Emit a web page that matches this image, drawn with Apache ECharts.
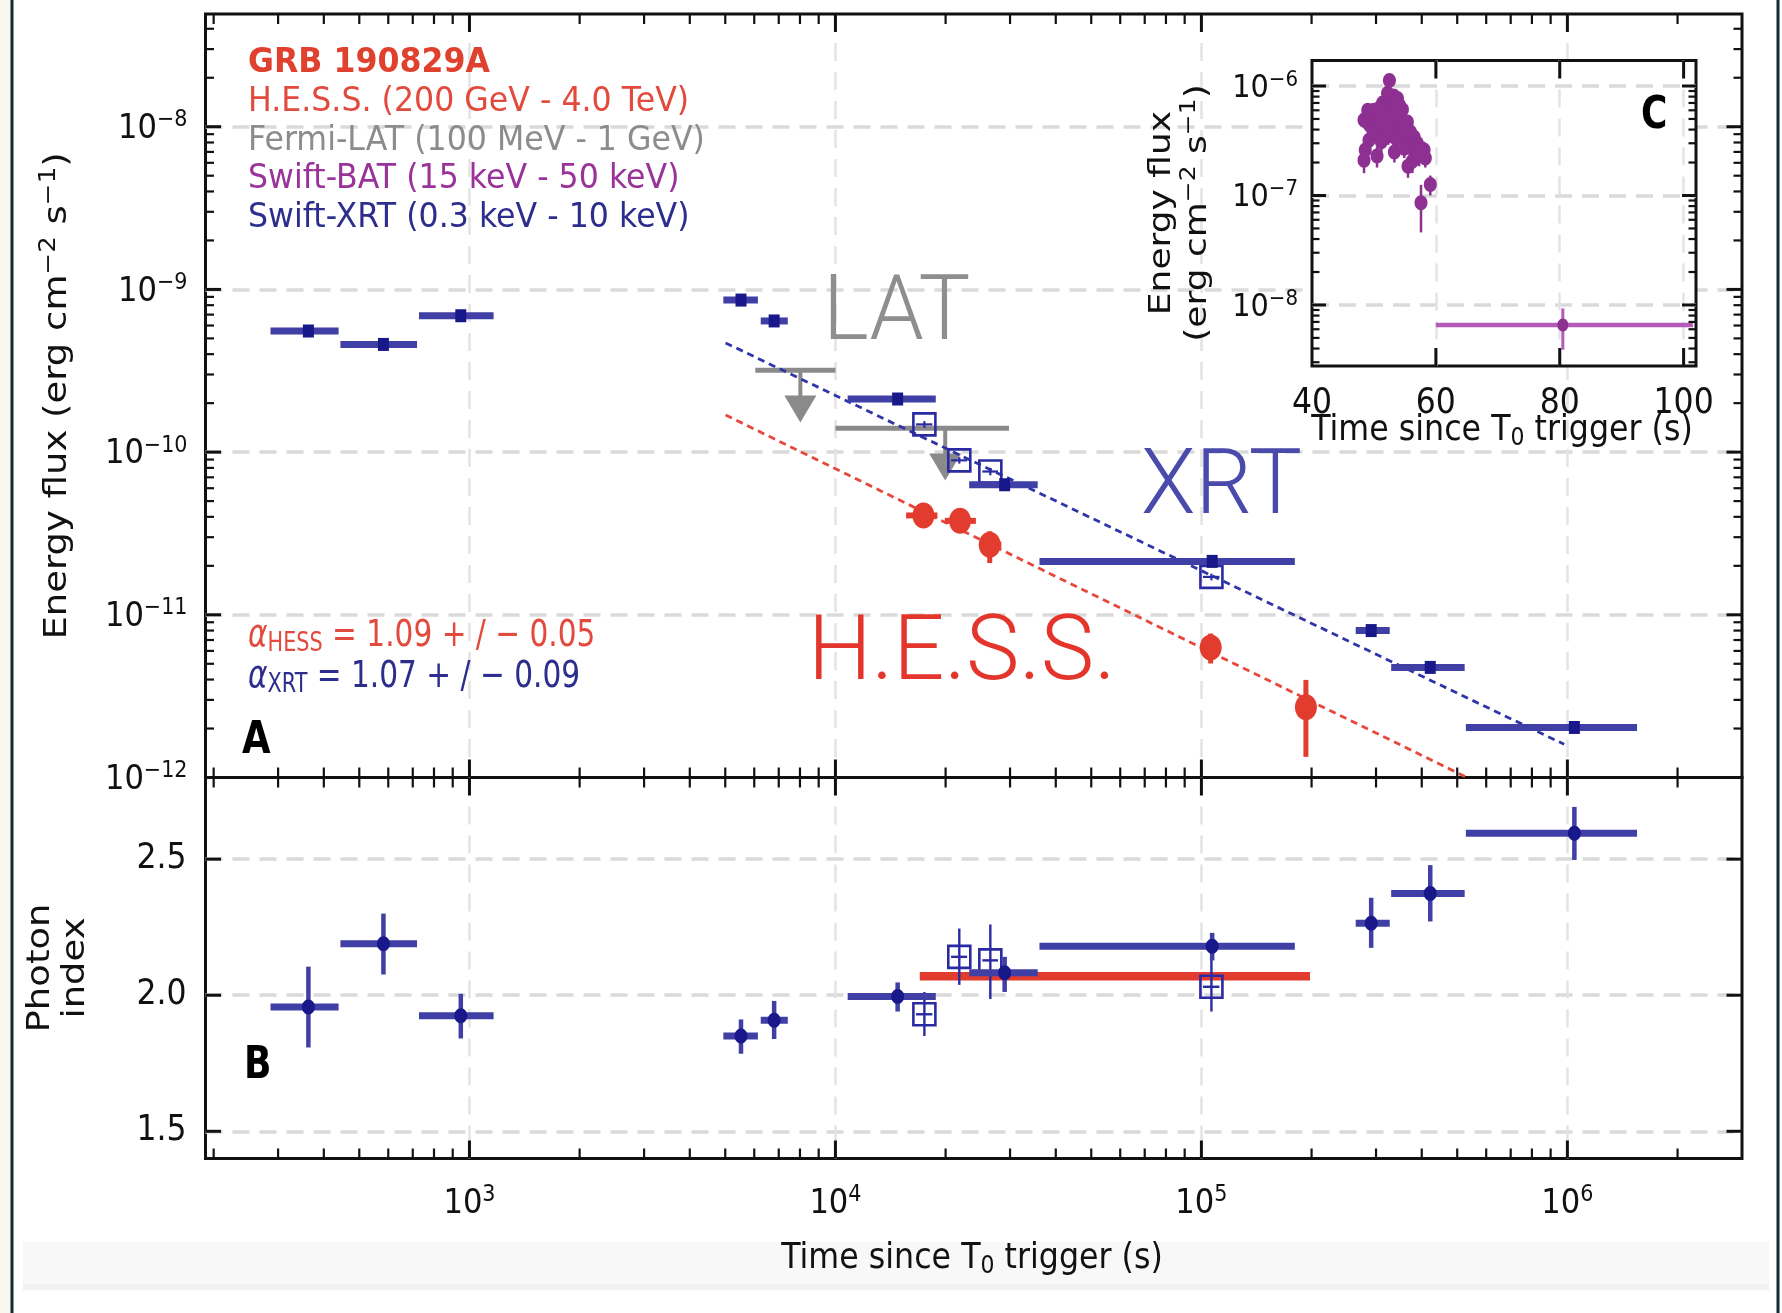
<!DOCTYPE html>
<html>
<head>
<meta charset="utf-8">
<script src="https://cdn.jsdelivr.net/npm/echarts@6/dist/echarts.min.js"></script>
<style>
html, body { margin: 0; padding: 0; background: #ffffff; }
#chart { width: 1782px; height: 1313px; }
</style>
</head>
<body>
<div id="chart"></div>
<script>
// ---------------- GRB 190829A multi-wavelength light curve ----------------

// Swift-XRT (filled squares): time bins (s), energy flux (erg cm^-2 s^-1), photon index
const xrtTime     = [363, 582, 947, 5520, 6800, 14790, 29000, 107000, 291000, 422000, 1045000];
const xrtTimeLo   = [286, 444, 728, 4940, 6250, 10800, 23200, 36100, 264000, 330000, 528000];
const xrtTimeHi   = [439, 719, 1164, 6140, 7410, 18800, 35700, 180000, 327000, 524000, 1550000];
const xrtFlux     = [5.55e-10, 4.59e-10, 6.89e-10, 8.6e-10, 6.4e-10, 2.12e-10, 6.3e-11, 2.13e-11, 8.0e-12, 4.75e-12, 2.03e-12];
const xrtFluxLo   = [5.3e-10, 4.4e-10, 6.6e-10, 8.2e-10, 6.1e-10, 2.03e-10, 6.0e-11, 2.0e-11, 7.5e-12, 4.45e-12, 1.9e-12];
const xrtFluxHi   = [5.8e-10, 4.8e-10, 7.2e-10, 9.0e-10, 6.7e-10, 2.21e-10, 6.6e-11, 2.26e-11, 8.5e-12, 5.05e-12, 2.16e-12];
const xrtIndex    = [1.957, 2.189, 1.925, 1.850, 1.908, 1.995, 2.083, 2.180, 2.264, 2.374, 2.595];
const xrtIndexLo  = [1.808, 2.076, 1.841, 1.785, 1.839, 1.940, 2.012, 2.128, 2.174, 2.271, 2.497];
const xrtIndexHi  = [2.105, 2.300, 2.005, 1.911, 1.979, 2.047, 2.141, 2.229, 2.358, 2.478, 2.692];

// Swift-XRT restricted to the H.E.S.S. observation windows (open squares)
const xrtSimTime    = [17500, 21800, 26500, 106500];
const xrtSimTimeLo  = [16600, 20700, 25200, 101000];
const xrtSimTimeHi  = [18400, 22900, 27800, 112000];
const xrtSimFlux    = [1.48e-10, 8.9e-11, 7.6e-11, 1.71e-11];
const xrtSimFluxLo  = [1.41e-10, 8.5e-11, 7.2e-11, 1.63e-11];
const xrtSimFluxHi  = [1.55e-10, 9.3e-11, 8.0e-11, 1.79e-11];
const xrtSimIndex   = [1.930, 2.141, 2.128, 2.031];
const xrtSimIndexLo = [1.850, 2.038, 1.986, 1.940];
const xrtSimIndexHi = [2.012, 2.245, 2.260, 2.141];

// Fermi-LAT upper limits
const latTime     = [8020, 19950];
const latTimeLo   = [6040, 10000];
const latTimeHi   = [10000, 29800];
const latFluxUL   = [3.19e-10, 1.40e-10];
const latArrowTip = [1.52e-10, 6.7e-11];

// H.E.S.S.
const hessTime    = [17400, 21900, 26400, 106000, 193000];
const hessTimeLo  = [15600, 19900, 24700, 99100, 182000];
const hessTimeHi  = [19000, 24200, 28400, 113000, 205000];
const hessFlux    = [4.08e-11, 3.78e-11, 2.70e-11, 6.3e-12, 2.70e-12];
const hessFluxLo  = [3.43e-11, 3.18e-11, 2.08e-11, 5.02e-12, 1.34e-12];
const hessFluxHi  = [4.85e-11, 4.28e-11, 3.26e-11, 7.67e-12, 3.98e-12];
const hessIndexTime = [17000, 198000];
const hessIndex     = 2.07;

// Power-law decay fits (end points of the dashed lines)
const xrtFitTime  = [5010, 980000];
const xrtFitFlux  = [4.69e-10, 1.60e-12];
const hessFitTime = [5010, 532000];
const hessFitFlux = [1.69e-10, 1.0e-12];

// Swift-BAT prompt emission (inset)
const batTime   = [48.4, 48.4, 48.6, 48.9, 49.0, 49.2, 49.3, 49.5, 49.7, 49.8, 50.0, 50.2, 50.3, 50.5, 50.6, 50.8, 50.9, 51.1, 51.2, 51.3, 51.4, 51.6, 51.8, 51.9, 52.0, 52.2, 52.3, 52.5, 52.7, 52.8, 53.0, 53.1, 53.2, 53.3, 53.5, 53.6, 53.8, 54.0, 54.1, 54.2, 54.5, 54.6, 54.8, 54.9, 55.2, 55.4, 55.5, 55.7, 55.9, 56.0, 56.2, 56.5, 56.6, 56.8, 57.0, 57.3, 57.5, 57.6, 58.1, 58.3, 59.1];
const batFlux   = [2.1e-7, 4.9e-7, 2.6e-7, 4.7e-7, 6.0e-7, 3.2e-7, 4.4e-7, 5.6e-7, 5.0e-7, 4.0e-7, 6.0e-7, 4.3e-7, 5.2e-7, 2.3e-7, 3.6e-7, 5.4e-7, 6.3e-7, 5.1e-7, 3.1e-7, 4.5e-7, 7.0e-7, 5.9e-7, 6.4e-7, 4.0e-7, 5.0e-7, 8.6e-7, 3.5e-7, 1.12e-6, 4.3e-7, 5.6e-7, 6.6e-7, 4.0e-7, 8.1e-7, 2.5e-7, 5.8e-7, 3.3e-7, 7.7e-7, 5.2e-7, 6.7e-7, 3.8e-7, 4.6e-7, 6.1e-7, 4.0e-7, 2.7e-7, 3.4e-7, 4.7e-7, 1.85e-7, 2.9e-7, 3.8e-7, 3.2e-7, 2.05e-7, 3.4e-7, 2.4e-7, 2.8e-7, 3.0e-7, 2.3e-7, 2.6e-7, 8.6e-8, 2.6e-7, 2.2e-7, 1.26e-7];
const batFluxLo = [1.6e-7, 4.2e-7, 2.1e-7, 4.0e-7, 5.2e-7, 2.6e-7, 3.7e-7, 4.8e-7, 4.3e-7, 3.3e-7, 5.2e-7, 3.6e-7, 4.5e-7, 1.8e-7, 3.0e-7, 4.6e-7, 5.5e-7, 4.3e-7, 2.5e-7, 3.8e-7, 6.1e-7, 5.1e-7, 5.6e-7, 3.3e-7, 4.3e-7, 7.6e-7, 2.9e-7, 1.0e-6, 3.6e-7, 4.8e-7, 5.8e-7, 3.3e-7, 7.2e-7, 2.0e-7, 5.0e-7, 2.7e-7, 6.8e-7, 4.5e-7, 5.9e-7, 3.2e-7, 3.9e-7, 5.3e-7, 3.3e-7, 2.2e-7, 2.8e-7, 4.0e-7, 1.45e-7, 2.4e-7, 3.2e-7, 2.6e-7, 1.6e-7, 2.8e-7, 1.9e-7, 2.3e-7, 2.5e-7, 1.85e-7, 2.1e-7, 4.6e-8, 2.1e-7, 1.8e-7, 1.0e-7];
const batFluxHi = [2.6e-7, 5.6e-7, 3.1e-7, 5.4e-7, 6.8e-7, 3.8e-7, 5.1e-7, 6.4e-7, 5.7e-7, 4.7e-7, 6.9e-7, 5.0e-7, 5.9e-7, 2.8e-7, 4.2e-7, 6.2e-7, 7.1e-7, 5.9e-7, 3.7e-7, 5.2e-7, 7.9e-7, 6.8e-7, 7.2e-7, 4.7e-7, 5.7e-7, 9.6e-7, 4.1e-7, 1.24e-6, 5.0e-7, 6.4e-7, 7.5e-7, 4.7e-7, 9.1e-7, 3.0e-7, 6.6e-7, 3.9e-7, 8.7e-7, 5.9e-7, 7.6e-7, 4.5e-7, 5.3e-7, 6.9e-7, 4.7e-7, 3.2e-7, 4.0e-7, 5.4e-7, 2.25e-7, 3.4e-7, 4.4e-7, 3.8e-7, 2.5e-7, 4.0e-7, 2.9e-7, 3.3e-7, 3.5e-7, 2.75e-7, 3.1e-7, 1.25e-7, 3.1e-7, 2.6e-7, 1.52e-7];
const batLateTime = [80.5], batLateTimeLo = [60], batLateTimeHi = [101.5];
const batLateFlux = [6.56e-9], batLateFluxLo = [3.9e-9], batLateFluxHi = [9.3e-9];

// Axis ticks
const timeDecades      = [1e3, 1e4, 1e5, 1e6];
const fluxDecades      = [1e-11, 1e-10, 1e-9, 1e-8];
const indexTicks       = [1.5, 2.0, 2.5];
const insetTimeTicks   = [60, 80, 100];
const insetFluxDecades = [1e-8, 1e-7, 1e-6];
const minorSteps       = [2, 3, 4, 5, 6, 7, 8, 9];

// ---------------- styling ----------------
const RED = '#e23c2e', NAVY = '#18188a', XRT_BAR = '#3f3fa6', XRT_OPEN = '#2a2aa2';
const GRAY = '#8a8a8a', PURPLE = '#8d3091', PURPLE_BAR = '#b45bb8';
const TF = "'DejaVu Sans Condensed', 'DejaVu Sans', sans-serif";
const DV = "'DejaVu Sans', sans-serif";
const GRID_H = { color: '#dadada', width: 3.5, type: [17, 10] };
const GRID_V = { color: '#e3e3e3', width: 2.5, type: [18, 11] };

function minorOf(decades, lo, hi) {
  const out = [];
  decades.forEach(d => minorSteps.forEach(k => { const v = k * d; if (v > lo && v < hi) out.push(v); }));
  return out;
}
function tickRows(majors, minors, ref, isX) {
  const rows = [];
  majors.forEach(v => rows.push(isX ? [v, ref, 1] : [ref, v, 1]));
  minors.forEach(v => rows.push(isX ? [v, ref, 0] : [ref, v, 0]));
  return rows;
}
function seg(x1, y1, x2, y2, w, c) {
  return { type: 'line', shape: { x1, y1, x2, y2 }, style: { stroke: c || '#111', lineWidth: w } };
}
function tickRenderer(dir, sides, majorLen, minorLen, ref) {
  return function (params, api) {
    const cs = params.coordSys;
    const major = api.value(2) === 1;
    const len = major ? majorLen : minorLen;
    const lw = major ? 3 : 2.2;
    const kids = [];
    if (dir === 'x') {
      const px = api.coord([api.value(0), ref])[0];
      if (sides.indexOf('top') >= 0) kids.push(seg(px, cs.y, px, cs.y + len, lw));
      if (sides.indexOf('bottom') >= 0) kids.push(seg(px, cs.y + cs.height, px, cs.y + cs.height - len, lw));
    } else {
      const py = api.coord([ref, api.value(1)])[1];
      if (sides.indexOf('left') >= 0) kids.push(seg(cs.x, py, cs.x + len, py, lw));
      if (sides.indexOf('right') >= 0) kids.push(seg(cs.x + cs.width, py, cs.x + cs.width - len, py, lw));
    }
    return { type: 'group', children: kids };
  };
}
function tickSeries(xi, yi, rows, renderer) {
  return { type: 'custom', xAxisIndex: xi, yAxisIndex: yi, data: rows, encode: { x: 0, y: 1 },
           renderItem: renderer, silent: true, z: 8 };
}

// error-bar point: [x, y, xLo, xHi, yLo, yHi]
function errRows(x, y, xl, xh, yl, yh) { return x.map((v, i) => [v, y[i], xl[i], xh[i], yl[i], yh[i]]); }
function errPoint(o) {
  return function (params, api) {
    const c  = api.coord([api.value(0), api.value(1)]);
    const l  = api.coord([api.value(2), api.value(1)]);
    const r  = api.coord([api.value(3), api.value(1)]);
    const lo = api.coord([api.value(0), api.value(4)]);
    const hi = api.coord([api.value(0), api.value(5)]);
    const kids = [
      seg(l[0], c[1], r[0], c[1], o.hw, o.barColor),
      seg(c[0], lo[1], c[0], hi[1], o.vw, o.barColor)
    ];
    if (o.marker === 'rect') kids.push({ type: 'rect', shape: { x: c[0] - o.rx, y: c[1] - o.ry, width: 2 * o.rx, height: 2 * o.ry }, style: { fill: o.color } });
    else if (o.marker === 'open') kids.push({ type: 'rect', shape: { x: c[0] - o.rx, y: c[1] - o.ry, width: 2 * o.rx, height: 2 * o.ry }, style: { fill: 'none', stroke: o.color, lineWidth: 2.6 } });
    else kids.push({ type: 'ellipse', shape: { cx: c[0], cy: c[1], rx: o.rx, ry: o.ry }, style: { fill: o.color } });
    return { type: 'group', children: kids };
  };
}
function errSeries(xi, yi, rows, o, z) {
  return { type: 'custom', xAxisIndex: xi, yAxisIndex: yi, data: rows,
           encode: { x: [0, 2, 3], y: [1, 4, 5] }, renderItem: errPoint(o), silent: true, z: z };
}

// upper limits: [t, F, tLo, tHi, Ftip]
function ulRenderer(params, api) {
  const c   = api.coord([api.value(0), api.value(1)]);
  const l   = api.coord([api.value(2), api.value(1)]);
  const r   = api.coord([api.value(3), api.value(1)]);
  const tip = api.coord([api.value(0), api.value(4)]);
  const headH = 27, headW = 16;
  return { type: 'group', children: [
    seg(l[0], c[1], r[0], c[1], 5, GRAY),
    seg(c[0], c[1], c[0], tip[1] - headH + 2, 4, GRAY),
    { type: 'polygon', shape: { points: [[c[0] - headW, tip[1] - headH], [c[0] + headW, tip[1] - headH], [c[0], tip[1]]] }, style: { fill: GRAY } }
  ] };
}

// horizontal band for the H.E.S.S. photon index: [tMid, idx, tLo, tHi]
function bandRenderer(params, api) {
  const l = api.coord([api.value(2), api.value(1)]);
  const r = api.coord([api.value(3), api.value(1)]);
  return seg(l[0], l[1], r[0], r[1], 8.5, RED);
}

function powLabel(v) {
  const lg = Math.log10(v), e = Math.round(lg);
  if (Math.abs(lg - e) > 1e-6) return '';
  return '{b|10}{s|' + (e < 0 ? '\u2212' + (-e) : String(e)) + '}';
}
function powRich(base, sup) {
  return {
    b: { fontFamily: TF, fontSize: base, lineHeight: base + 2, padding: [5, 0, 0, 0], color: '#111' },
    s: { fontFamily: TF, fontSize: sup, lineHeight: sup + 1, verticalAlign: 'top', color: '#111' }
  };
}
// axis titles with raised / lowered parts
const titleRich = {
  t: { fontFamily: DV, fontSize: 37, lineHeight: 38, padding: [8, 0, 0, 0], fill: '#111' },
  p: { fontFamily: DV, fontSize: 26, lineHeight: 27, verticalAlign: 'top', fill: '#111' }
};
const insetTitleRich = {
  t: { fontFamily: DV, fontSize: 36, lineHeight: 37, padding: [8, 0, 0, 0], fill: '#111' },
  p: { fontFamily: DV, fontSize: 25, lineHeight: 26, verticalAlign: 'top', fill: '#111' }
};
const timeRich = {
  t: { fontFamily: DV, fontSize: 36, lineHeight: 38, padding: [0, 0, 2, 0], fill: '#111' },
  b: { fontFamily: DV, fontSize: 25, lineHeight: 26, verticalAlign: 'bottom', fill: '#111' }
};
const hideAxis = { axisLine: { show: false }, axisTick: { show: false } };

// ---------------- layout ----------------
const option = {
  animation: false,
  backgroundColor: '#ffffff',
  grid: [
    { left: 205.5, top: 14, width: 1536.5, height: 763.5, show: true, borderColor: '#111', borderWidth: 3, outerBoundsMode: 'none' },
    { left: 205.5, top: 777.5, width: 1536.5, height: 381, show: true, borderColor: '#111', borderWidth: 3, outerBoundsMode: 'none' },
    { left: 1312, top: 60.5, width: 384, height: 305.5, show: true, borderColor: '#111', borderWidth: 3, backgroundColor: '#ffffff', z: 3, outerBoundsMode: 'none' }
  ],
  xAxis: [
    Object.assign({ type: 'log', logBase: 10, gridIndex: 0, min: 190, max: 3e6,
      axisLabel: { show: false },
      splitLine: { show: true, showMinLine: false, showMaxLine: false, lineStyle: GRID_V } }, hideAxis),
    Object.assign({ type: 'log', logBase: 10, gridIndex: 1, min: 190, max: 3e6,
      axisLabel: { show: true, margin: 25, formatter: powLabel, rich: powRich(34, 23), showMinLabel: false, showMaxLabel: false },
      splitLine: { show: true, showMinLine: false, showMaxLine: false, lineStyle: GRID_V } }, hideAxis),
    Object.assign({ type: 'value', gridIndex: 2, min: 40, max: 102, interval: 20, z: 4,
      axisLabel: { show: true, margin: 20, fontFamily: TF, fontSize: 35, color: '#111', showMaxLabel: false,
                   formatter: v => (v % 20 === 0 ? String(v) : '') },
      splitLine: { show: true, showMinLine: false, showMaxLine: false, lineStyle: GRID_V } }, hideAxis)
  ],
  yAxis: [
    Object.assign({ type: 'log', logBase: 10, gridIndex: 0, min: 1e-12, max: 4.93e-8,
      axisLabel: { show: true, margin: 18, formatter: powLabel, rich: powRich(34, 23), showMaxLabel: false },
      splitLine: { show: true, showMinLine: false, showMaxLine: false, lineStyle: GRID_H } }, hideAxis),
    Object.assign({ type: 'value', gridIndex: 1, min: 1.4, max: 2.8, splitNumber: 3,
      axisLabel: { show: true, margin: 19, fontFamily: TF, fontSize: 35, color: '#111', showMinLabel: false, showMaxLabel: false,
                   formatter: v => (indexTicks.some(t => Math.abs(t - v) < 1e-6) ? v.toFixed(1) : '') },
      splitLine: { show: true, showMinLine: false, showMaxLine: false, lineStyle: GRID_H } }, hideAxis),
    Object.assign({ type: 'log', logBase: 10, gridIndex: 2, min: 2.77e-9, max: 1.71e-6, z: 4,
      axisLabel: { show: true, margin: 14, formatter: powLabel, rich: powRich(32, 22), showMinLabel: false, showMaxLabel: false },
      splitLine: { show: true, showMinLine: false, showMaxLine: false, lineStyle: GRID_H } }, hideAxis)
  ],
  series: [
    // ticks
    tickSeries(0, 0, tickRows(timeDecades, minorOf([100, 1e3, 1e4, 1e5, 1e6], 190, 2.9e6), 1e-10, true), tickRenderer('x', ['top', 'bottom'], 18, 10, 1e-10)),
    tickSeries(0, 0, tickRows(fluxDecades, minorOf([1e-12, 1e-11, 1e-10, 1e-9, 1e-8], 1e-12, 4.9e-8), 1e4, false), tickRenderer('y', ['left', 'right'], 15.5, 8.5, 1e4)),
    tickSeries(1, 1, tickRows(timeDecades, minorOf([100, 1e3, 1e4, 1e5, 1e6], 190, 2.9e6), 2, true), tickRenderer('x', ['top', 'bottom'], 18, 10, 2)),
    tickSeries(1, 1, tickRows(indexTicks, [], 1e4, false), tickRenderer('y', ['left', 'right'], 15.5, 8.5, 1e4)),
    tickSeries(2, 2, tickRows(insetTimeTicks, [], 1e-7, true), tickRenderer('x', ['top', 'bottom'], 18, 10, 1e-7)),
    tickSeries(2, 2, tickRows(insetFluxDecades, minorOf([1e-9, 1e-8, 1e-7, 1e-6], 2.8e-9, 1.7e-6), 70, false), tickRenderer('y', ['left', 'right'], 14, 7.5, 70)),

    // panel A: energy flux
    { type: 'custom', xAxisIndex: 0, yAxisIndex: 0, silent: true, z: 2,
      data: latTime.map((t, i) => [t, latFluxUL[i], latTimeLo[i], latTimeHi[i], latArrowTip[i]]),
      encode: { x: [0, 2, 3], y: [1, 4] }, renderItem: ulRenderer },
    { type: 'line', xAxisIndex: 0, yAxisIndex: 0, z: 3, symbol: 'none', silent: true,
      data: xrtFitTime.map((t, i) => [t, xrtFitFlux[i]]), lineStyle: { color: '#2f35a8', width: 2.8, type: [7, 5] } },
    { type: 'line', xAxisIndex: 0, yAxisIndex: 0, z: 3, symbol: 'none', silent: true,
      data: hessFitTime.map((t, i) => [t, hessFitFlux[i]]), lineStyle: { color: '#e8473b', width: 2.8, type: [7, 5] } },
    errSeries(0, 0, errRows(xrtSimTime, xrtSimFlux, xrtSimTimeLo, xrtSimTimeHi, xrtSimFluxLo, xrtSimFluxHi),
      { hw: 2.2, vw: 2.2, barColor: XRT_OPEN, marker: 'open', color: XRT_OPEN, rx: 11, ry: 11 }, 4),
    errSeries(0, 0, errRows(xrtTime, xrtFlux, xrtTimeLo, xrtTimeHi, xrtFluxLo, xrtFluxHi),
      { hw: 7, vw: 4, barColor: XRT_BAR, marker: 'rect', color: NAVY, rx: 5.5, ry: 6.5 }, 5),
    errSeries(0, 0, errRows(hessTime, hessFlux, hessTimeLo, hessTimeHi, hessFluxLo, hessFluxHi),
      { hw: 6, vw: 5, barColor: RED, marker: 'circle', color: RED, rx: 11, ry: 13 }, 5),

    // panel B: photon index
    { type: 'custom', xAxisIndex: 1, yAxisIndex: 1, silent: true, z: 3,
      data: [[Math.sqrt(hessIndexTime[0] * hessIndexTime[1]), hessIndex, hessIndexTime[0], hessIndexTime[1]]],
      encode: { x: [0, 2, 3], y: 1 }, renderItem: bandRenderer },
    errSeries(1, 1, errRows(xrtSimTime, xrtSimIndex, xrtSimTimeLo, xrtSimTimeHi, xrtSimIndexLo, xrtSimIndexHi),
      { hw: 2.4, vw: 2.4, barColor: XRT_OPEN, marker: 'open', color: XRT_OPEN, rx: 11, ry: 11 }, 4),
    errSeries(1, 1, errRows(xrtTime, xrtIndex, xrtTimeLo, xrtTimeHi, xrtIndexLo, xrtIndexHi),
      { hw: 7, vw: 4.5, barColor: XRT_BAR, marker: 'circle', color: NAVY, rx: 6.5, ry: 7.5 }, 5),

    // panel C: Swift-BAT inset
    errSeries(2, 2, errRows(batLateTime, batLateFlux, batLateTimeLo, batLateTimeHi, batLateFluxLo, batLateFluxHi),
      { hw: 4.5, vw: 3, barColor: PURPLE_BAR, marker: 'circle', color: PURPLE, rx: 5.5, ry: 6.5 }, 6),
    errSeries(2, 2, errRows(batTime, batFlux, batTime, batTime, batFluxLo, batFluxHi),
      { hw: 0.1, vw: 2.5, barColor: PURPLE, marker: 'circle', color: PURPLE, rx: 6.5, ry: 7.5 }, 6)
  ],
  graphic: [
    // page frame
    { type: 'rect', z: -10, shape: { x: 0, y: 0, width: 11, height: 1313 }, style: { fill: '#f9f6ee' } },
    { type: 'rect', z: -10, shape: { x: 10.5, y: 0, width: 3, height: 1313 }, style: { fill: '#102a36' } },
    { type: 'rect', z: -10, shape: { x: 1776.5, y: 0, width: 3, height: 1313 }, style: { fill: '#102a36' } },
    { type: 'rect', z: -10, shape: { x: 23, y: 1242, width: 1746, height: 48 }, style: { fill: '#f8f8f8' } },
    { type: 'rect', z: -10, shape: { x: 23, y: 1284, width: 1746, height: 6 }, style: { fill: '#f1f1f1' } },

    // key
    { type: 'text', z: 20, x: 248, y: 63.5, scaleX: 0.93, style: { text: 'GRB 190829A', font: 'bold 34px ' + DV, fill: '#e0402e', verticalAlign: 'middle' } },
    { type: 'text', z: 20, x: 248, y: 102, scaleX: 0.93, style: { text: 'H.E.S.S. (200 GeV - 4.0 TeV)', font: '34px ' + DV, fill: '#e24a3e', verticalAlign: 'middle' } },
    { type: 'text', z: 20, x: 248, y: 141, scaleX: 0.93, style: { text: 'Fermi-LAT (100 MeV - 1 GeV)', font: '34px ' + DV, fill: '#8c8c8c', verticalAlign: 'middle' } },
    { type: 'text', z: 20, x: 248, y: 179, scaleX: 0.93, style: { text: 'Swift-BAT (15 keV - 50 keV)', font: '34px ' + DV, fill: '#993399', verticalAlign: 'middle' } },
    { type: 'text', z: 20, x: 248, y: 218, scaleX: 0.93, style: { text: 'Swift-XRT (0.3 keV - 10 keV)', font: '34px ' + DV, fill: '#2d2d8e', verticalAlign: 'middle' } },

    // decay indices
    { type: 'text', z: 20, x: 248, y: 637, scaleX: 0.8, style: { text: '{a|\u03b1}{s|HESS}{t| = 1.09 + / \u2212 0.05}', verticalAlign: 'middle', rich: {
        a: { fontFamily: DV, fontStyle: 'italic', fontSize: 37, lineHeight: 40, padding: [0, 0, 2, 0], fill: '#e24a3e' },
        s: { fontFamily: DV, fontSize: 26, lineHeight: 28, verticalAlign: 'bottom', fill: '#e24a3e' },
        t: { fontFamily: DV, fontSize: 37, lineHeight: 40, padding: [0, 0, 2, 0], fill: '#e24a3e' } } } },
    { type: 'text', z: 20, x: 248, y: 678, scaleX: 0.8, style: { text: '{a|\u03b1}{s|XRT}{t| = 1.07 + / \u2212 0.09}', verticalAlign: 'middle', rich: {
        a: { fontFamily: DV, fontStyle: 'italic', fontSize: 37, lineHeight: 40, padding: [0, 0, 2, 0], fill: '#2d2d8e' },
        s: { fontFamily: DV, fontSize: 26, lineHeight: 28, verticalAlign: 'bottom', fill: '#2d2d8e' },
        t: { fontFamily: DV, fontSize: 37, lineHeight: 40, padding: [0, 0, 2, 0], fill: '#2d2d8e' } } } },

    // instrument names
    { type: 'text', z: 20, x: 823, y: 316, scaleX: 0.965, style: { text: 'LAT', fontFamily: 'Roboto', fontWeight: 300, fontSize: 90, fill: '#8e8e8e', verticalAlign: 'middle' } },
    { type: 'text', z: 20, x: 1141, y: 490, scaleX: 0.99, style: { text: 'XRT', fontFamily: 'Roboto', fontWeight: 300, fontSize: 90, fill: '#4a4aaa', verticalAlign: 'middle' } },
    { type: 'text', z: 20, x: 808, y: 656, scaleX: 1.0, style: { text: 'H.E.S.S.', fontFamily: 'Roboto', fontWeight: 300, fontSize: 90, fill: '#e3352b', verticalAlign: 'middle' } },

    // panel letters
    { type: 'text', z: 20, x: 242, y: 741, scaleX: 0.82, style: { text: 'A', font: 'bold 45px ' + DV, fill: '#000', verticalAlign: 'middle' } },
    { type: 'text', z: 20, x: 244, y: 1066, scaleX: 0.8, style: { text: 'B', font: 'bold 45px ' + DV, fill: '#000', verticalAlign: 'middle' } },
    { type: 'text', z: 20, x: 1641, y: 116, scaleX: 0.8, style: { text: 'C', font: 'bold 45px ' + DV, fill: '#000', verticalAlign: 'middle' } },

    // axis titles
    { type: 'text', z: 20, x: 54, y: 396, rotation: Math.PI / 2, scaleY: 0.855,
      style: { text: '{t|Energy flux (erg cm}{p|\u22122}{t| s}{p|\u22121}{t|)}', rich: titleRich, align: 'center', verticalAlign: 'middle' } },
    { type: 'text', z: 20, x: 41, y: 968, rotation: Math.PI / 2, scaleY: 0.855, style: { text: 'Photon', font: '37px ' + DV, fill: '#111', align: 'center', verticalAlign: 'middle' } },
    { type: 'text', z: 20, x: 76, y: 968, rotation: Math.PI / 2, scaleY: 0.855, style: { text: 'index', font: '37px ' + DV, fill: '#111', align: 'center', verticalAlign: 'middle' } },
    { type: 'text', z: 20, x: 972, y: 1260, scaleX: 0.88,
      style: { text: '{t|Time since T}{b|0}{t| trigger (s)}', rich: timeRich, align: 'center', verticalAlign: 'middle' } },
    { type: 'text', z: 20, x: 1502, y: 432, scaleX: 0.88,
      style: { text: '{t|Time since T}{b|0}{t| trigger (s)}', rich: timeRich, align: 'center', verticalAlign: 'middle' } },
    { type: 'text', z: 20, x: 1162, y: 213, rotation: Math.PI / 2, scaleY: 0.855, style: { text: 'Energy flux', font: '36px ' + DV, fill: '#111', align: 'center', verticalAlign: 'middle' } },
    { type: 'text', z: 20, x: 1195, y: 213, rotation: Math.PI / 2, scaleY: 0.855,
      style: { text: '{t|(erg cm}{p|\u22122}{t| s}{p|\u22121}{t|)}', rich: insetTitleRich, align: 'center', verticalAlign: 'middle' } }
  ]
};

const chart = echarts.init(document.getElementById('chart'), null, { renderer: 'canvas' });
chart.setOption(option);
</script>
</body>
</html>
